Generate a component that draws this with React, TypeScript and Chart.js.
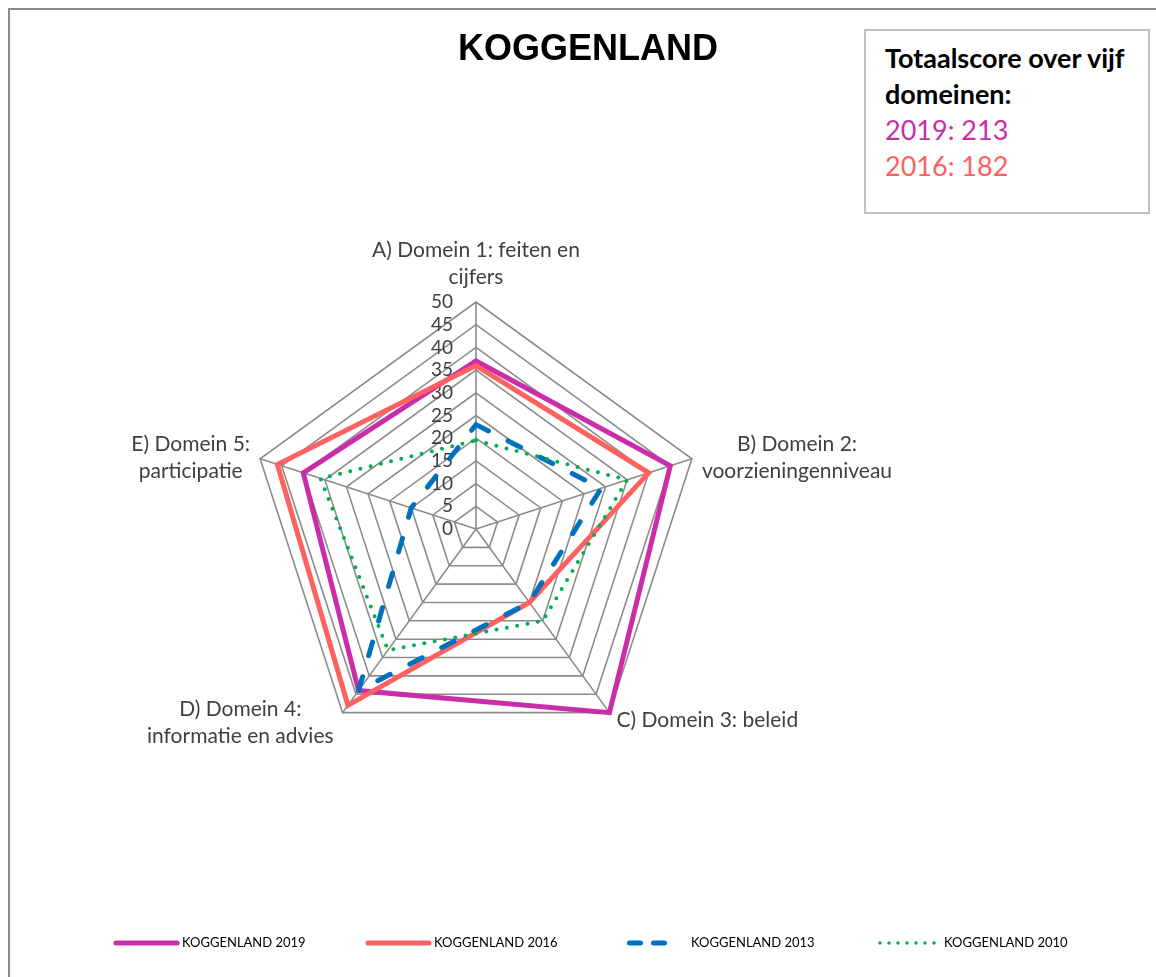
import React, { useEffect, useRef } from "react";
import { Chart, registerables } from "chart.js";

Chart.register(...registerables);

// ---------- data ----------
const categories: string[][] = [
  ["A) Domein 1: feiten en", "cijfers"],
  ["B) Domein 2:", "voorzieningenniveau"],
  ["C) Domein 3: beleid"],
  ["D) Domein 4:", "informatie en advies"],
  ["E) Domein 5:", "participatie"],
];
const seriesLabels = ["KOGGENLAND 2019", "KOGGENLAND 2016", "KOGGENLAND 2013", "KOGGENLAND 2010"];
const values2019 = [37, 45, 50, 44, 40];
const values2016 = [36, 40, 20, 48, 46];
const values2013 = [23, 29, 20, 44, 15];
const values2010 = [19.5, 35, 25, 33, 36];
const tickValues = [0, 5, 10, 15, 20, 25, 30, 35, 40, 45, 50];
const chartTitle = "KOGGENLAND";
const totalsHeading = ["Totaalscore over vijf", "domeinen:"];
const totalYears = ["2019", "2016"];
const totalScores = [213, 182];

// ---------- styles ----------
const COLORS = ["#CB2DA8", "#FF6060", "#0070C0", "#00B050"];
const LABEL_FONT = "21px Lato, 'Noto Sans', sans-serif";
const TICK_FONT = "19px Lato, 'Noto Sans', sans-serif";
const LEGEND_FONT = "13px Lato, 'Noto Sans', sans-serif";
const TEXT_COLOR = "#404040";

const overlayPlugin = {
  id: "overlay",
  beforeDatasetsDraw(chart: any) {
    const r = chart.scales.r;
    const ctx = chart.ctx as CanvasRenderingContext2D;
    ctx.save();
    // tick labels, left of the vertical axis
    ctx.font = TICK_FONT;
    ctx.fillStyle = TEXT_COLOR;
    ctx.textAlign = "right";
    ctx.textBaseline = "middle";
    tickValues.forEach((v) => {
      const y = r.yCenter - r.getDistanceFromCenterForValue(v);
      ctx.fillText(String(v), r.xCenter - 23, y);
    });
    // point labels (centred lines, Excel style)
    ctx.font = LABEL_FONT;
    ctx.textBaseline = "middle";
    ctx.textAlign = "center";
    const lineH = 27;
    categories.forEach((lines, i) => {
      const p = r.getPointPosition(i, r.drawingArea);
      const maxW = Math.max(...lines.map((l) => ctx.measureText(l).width));
      let cx = p.x;
      let firstY = p.y;
      if (i === 0) {
        cx = p.x;
        firstY = p.y - 25 - (lines.length - 1) * lineH;
      } else if (i === 1) {
        cx = p.x + 10 + maxW / 2;
        firstY = p.y - 15;
      } else if (i === 2) {
        cx = p.x + 7 + maxW / 2;
        firstY = p.y + 8;
      } else if (i === 3) {
        cx = p.x - 9 - maxW / 2;
        firstY = p.y - 3;
      } else {
        cx = p.x - 10 - maxW / 2;
        firstY = p.y - 15;
      }
      lines.forEach((l, k) => ctx.fillText(l, cx, firstY + k * lineH));
    });
    ctx.restore();
  },
  afterDraw(chart: any) {
    const ctx = chart.ctx as CanvasRenderingContext2D;
    const starts = [115, 367, 624, 877];
    const y = 943;
    ctx.save();
    chart.data.datasets.forEach((ds: any, i: number) => {
      const x0 = starts[i];
      ctx.strokeStyle = ds.borderColor;
      ctx.lineWidth = ds.borderWidth;
      ctx.beginPath();
      if (i === 2) {
        ctx.lineCap = "round";
        ctx.setLineDash([11, 13]);
        ctx.moveTo(x0 + 5.5, y);
        ctx.lineTo(x0 + 41, y);
      } else if (i === 3) {
        ctx.lineCap = "round";
        ctx.setLineDash([0, 9]);
        ctx.lineWidth = 3.5;
        ctx.moveTo(x0 + 3, y);
        ctx.lineTo(x0 + 58, y);
      } else {
        ctx.lineCap = "round";
        ctx.setLineDash([]);
        ctx.moveTo(x0 + 1, y);
        ctx.lineTo(x0 + 62, y);
      }
      ctx.stroke();
      ctx.setLineDash([]);
      ctx.font = LEGEND_FONT;
      ctx.fillStyle = "#000";
      ctx.textAlign = "left";
      ctx.textBaseline = "middle";
      const tx = i === 2 ? x0 + 67 : i === 3 ? x0 + 67 : x0 + 67;
      ctx.fillText(ds.label, tx, y);
    });
    ctx.restore();
  },
};

export default function App() {
  const ref = useRef<HTMLCanvasElement | null>(null);

  useEffect(() => {
    document.body.style.overflow = "hidden";
    const canvas = ref.current;
    if (!canvas) return;
    const chart = new Chart(canvas, {
      type: "radar",
      data: {
        labels: categories,
        datasets: [
          {
            label: seriesLabels[0],
            data: values2019,
            borderColor: COLORS[0],
            backgroundColor: "transparent",
            borderWidth: 5,
            borderJoinStyle: "miter",
            fill: false,
            pointRadius: 0,
            order: 3,
          },
          {
            label: seriesLabels[1],
            data: values2016,
            borderColor: COLORS[1],
            backgroundColor: "transparent",
            borderWidth: 5,
            borderJoinStyle: "miter",
            fill: false,
            pointRadius: 0,
            order: 2,
          },
          {
            label: seriesLabels[2],
            data: values2013,
            borderColor: COLORS[2],
            backgroundColor: "transparent",
            borderWidth: 5,
            borderDash: [14, 22],
            borderCapStyle: "round",
            fill: false,
            pointRadius: 0,
            order: 1,
          },
          {
            label: seriesLabels[3],
            data: values2010,
            borderColor: COLORS[3],
            backgroundColor: "transparent",
            borderWidth: 4,
            borderDash: [0, 10.5],
            borderCapStyle: "round",
            fill: false,
            pointRadius: 0,
            order: 0,
          },
        ],
      },
      options: {
        responsive: false,
        animation: false,
        devicePixelRatio: 1,
        layout: { padding: { left: 249, right: 453, top: 302, bottom: 221 } },
        plugins: { legend: { display: false }, tooltip: { enabled: false }, title: { display: false } },
        scales: {
          r: {
            min: 0,
            max: 50,
            ticks: { stepSize: 5, display: false },
            grid: { color: "#8c8c8c", lineWidth: 1.6 },
            angleLines: { color: "#8c8c8c", lineWidth: 1.6 },
            pointLabels: { display: false },
          },
        },
      },
      plugins: [overlayPlugin],
    } as any);
    return () => chart.destroy();
  }, []);

  return (
    <div>
      <div
        style={{
          position: "absolute",
          left: 8,
          top: 8,
          width: 1200,
          height: 1000,
          borderLeft: "2px solid #8c8c8c",
          borderTop: "2px solid #8c8c8c",
          boxSizing: "border-box",
        }}
      />
      <canvas
        ref={ref}
        width={1156}
        height={977}
        style={{ position: "absolute", left: 0, top: 0, width: 1156, height: 977 }}
      />
      <div
        style={{
          position: "absolute",
          left: 388,
          top: 30,
          width: 400,
          textAlign: "center",
          font: "bold 36px 'Liberation Sans', Arial, sans-serif",
          lineHeight: "36px",
          color: "#000",
        }}
      >
        {chartTitle}
      </div>
      <div
        style={{
          position: "absolute",
          left: 864,
          top: 29,
          width: 286,
          height: 185,
          boxSizing: "border-box",
          border: "2px solid #c0c0c0",
          paddingLeft: 19,
          paddingTop: 9,
          fontFamily: "Lato, 'Noto Sans', sans-serif",
          fontSize: 27,
          lineHeight: "36px",
          background: "#fff",
        }}
      >
        {totalsHeading.map((t, i) => (
          <div key={"h" + i} style={{ fontWeight: 700, color: "#000", whiteSpace: "nowrap" }}>
            {t}
          </div>
        ))}
        {totalYears.map((y, i) => (
          <div key={"t" + i} style={{ color: COLORS[i], whiteSpace: "nowrap" }}>
            {y}: {totalScores[i]}
          </div>
        ))}
      </div>
    </div>
  );
}
